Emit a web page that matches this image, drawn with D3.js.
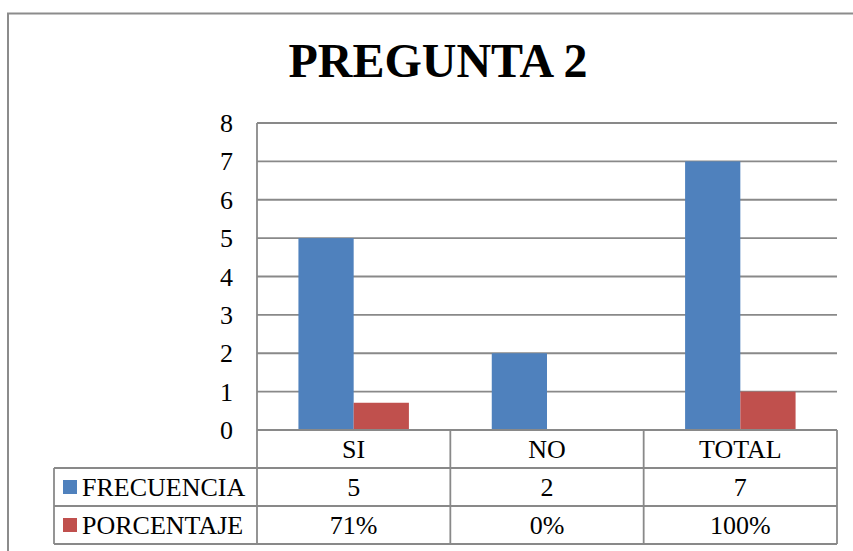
<!DOCTYPE html>
<html>
<head>
<meta charset="utf-8">
<script src="https://cdn.jsdelivr.net/npm/d3@7"></script>
<style>
  html, body { margin: 0; padding: 0; background: #fff; }
  svg { display: block; }
</style>
</head>
<body>
<svg id="chart" width="853" height="551"></svg>
<script>
// ---- data ----
const title = "PREGUNTA 2";
const categories = ["SI", "NO", "TOTAL"];
const seriesNames = ["FRECUENCIA", "PORCENTAJE"];
const frecuencia = [5, 2, 7];
const porcentaje = [0.71, 0, 1];
const porcentajeLabels = ["71%", "0%", "100%"];
const frecuenciaLabels = ["5", "2", "7"];
const yTicks = [0, 1, 2, 3, 4, 5, 6, 7, 8];
const colors = ["#4F81BD", "#C0504D"];

// ---- layout ----
const font = "'Liberation Serif', 'Times New Roman', serif";
const gridColor = "#898989";
const plot = { left: 257, right: 837, top: 123, bottom: 430 };
const rowH = 38;
const tableLeft = 54;
const fs = 26;

const svg = d3.select("#chart");

// outer frame
svg.append("rect")
  .attr("x", 8).attr("y", 13.5)
  .attr("width", 900).attr("height", 600)
  .attr("fill", "none").attr("stroke", "#8c8c8c").attr("stroke-width", 2);

// title
svg.append("text")
  .attr("x", 438).attr("y", 76.5)
  .attr("text-anchor", "middle")
  .attr("font-family", font).attr("font-weight", "bold")
  .attr("font-size", 48).attr("fill", "#000")
  .text(title);

// scales
const y = d3.scaleLinear().domain([0, 8]).range([plot.bottom, plot.top]);
const x0 = d3.scaleBand().domain(categories).range([plot.left, plot.right]).paddingInner(0).paddingOuter(0);
const x1 = d3.scaleBand().domain(seriesNames).range([0, x0.bandwidth()]).paddingInner(0).paddingOuter(0.75);

// gridlines
svg.append("g")
  .selectAll("line").data(yTicks.filter(t => t > 0)).join("line")
  .attr("x1", plot.left).attr("x2", plot.right)
  .attr("y1", d => y(d)).attr("y2", d => y(d))
  .attr("stroke", gridColor).attr("stroke-width", 1.8);

// y axis via d3 axis
const yAxis = svg.append("g")
  .attr("transform", `translate(${plot.left},0)`)
  .call(d3.axisLeft(y).tickValues(yTicks).tickSize(0).tickPadding(24).tickFormat(d3.format("d")));
yAxis.select(".domain").remove();
yAxis.selectAll("text")
  .attr("font-family", font).attr("font-size", fs).attr("fill", "#000")
  .attr("dy", "0.33em");

// bars
const seriesValues = [frecuencia, porcentaje];
seriesNames.forEach((s, si) => {
  svg.append("g").selectAll("rect")
    .data(categories.map((c, i) => ({ c, v: seriesValues[si][i] })))
    .join("rect")
    .attr("x", d => x0(d.c) + x1(s))
    .attr("width", x1.bandwidth())
    .attr("y", d => y(d.v))
    .attr("height", d => y(0) - y(d.v))
    .attr("fill", colors[si]);
});

// y axis line
svg.append("line")
  .attr("x1", plot.left).attr("x2", plot.left)
  .attr("y1", plot.top).attr("y2", plot.bottom + rowH * 3)
  .attr("stroke", gridColor).attr("stroke-width", 1.8);

// ---- data table ----
const tableBottom = plot.bottom + rowH * 3;
const tbl = svg.append("g");
// horizontal lines
tbl.append("line").attr("x1", plot.left).attr("x2", plot.right)
  .attr("y1", plot.bottom).attr("y2", plot.bottom);
[1, 2, 3].forEach(r => {
  tbl.append("line").attr("x1", tableLeft).attr("x2", plot.right)
    .attr("y1", plot.bottom + rowH * r).attr("y2", plot.bottom + rowH * r);
});
// vertical lines
tbl.append("line").attr("x1", tableLeft).attr("x2", tableLeft)
  .attr("y1", plot.bottom + rowH).attr("y2", tableBottom);
categories.forEach(c => {
  const xr = x0(c) + x0.bandwidth();
  tbl.append("line").attr("x1", xr).attr("x2", xr)
    .attr("y1", plot.bottom).attr("y2", tableBottom);
});
tbl.selectAll("line").attr("stroke", gridColor).attr("stroke-width", 1.8);

// header row (category labels)
svg.append("g").selectAll("text").data(categories).join("text")
  .attr("x", d => x0(d) + x0.bandwidth() / 2)
  .attr("y", plot.bottom + rowH / 2)
  .attr("dy", "0.33em")
  .attr("text-anchor", "middle")
  .attr("font-family", font).attr("font-size", fs).attr("fill", "#000")
  .text(d => d);

// data rows
const rowLabels = [frecuenciaLabels, porcentajeLabels];
seriesNames.forEach((s, si) => {
  const cy = plot.bottom + rowH * (si + 1) + rowH / 2;
  svg.append("rect")
    .attr("x", 63).attr("y", cy - 7)
    .attr("width", 14).attr("height", 14)
    .attr("fill", colors[si]);
  svg.append("text")
    .attr("x", 82).attr("y", cy).attr("dy", "0.33em")
    .attr("font-family", font).attr("font-size", fs).attr("fill", "#000")
    .text(s);
  svg.append("g").selectAll("text").data(categories).join("text")
    .attr("x", d => x0(d) + x0.bandwidth() / 2)
    .attr("y", cy).attr("dy", "0.33em")
    .attr("text-anchor", "middle")
    .attr("font-family", font).attr("font-size", fs).attr("fill", "#000")
    .text((d, i) => rowLabels[si][i]);
});
</script>
</body>
</html>
